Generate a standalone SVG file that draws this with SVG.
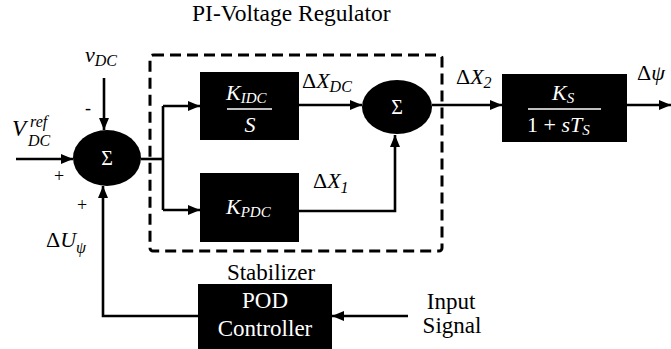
<svg xmlns="http://www.w3.org/2000/svg" width="671" height="349" viewBox="0 0 671 349" font-family="'Liberation Serif', 'Times New Roman', serif">
<defs>
<marker id="ah" viewBox="0 0 12 10" refX="12" refY="5" markerWidth="12" markerHeight="10" markerUnits="userSpaceOnUse" orient="auto">
<path d="M0,0 L12,5 L0,10 z" fill="#000"/>
</marker>
</defs>
<style>
.blk{fill:#000;stroke:none}
.ln{fill:none;stroke:#000;stroke-width:2.6}
.arr{fill:none;stroke:#000;stroke-width:2.6;marker-end:url(#ah)}
.dash{fill:none;stroke:#000;stroke-width:3;stroke-dasharray:11 6}
.frac{stroke:#fff;stroke-width:1.6}
</style>
<rect width="671" height="349" fill="#fff"/>
<text x="192" y="21" font-size="23.5" fill="#000">PI-Voltage Regulator</text>
<rect class="dash" x="150" y="55" width="292" height="196" rx="3"/>
<g id="connectors">
<path class="arr" d="M16,159 H73"/>
<path class="arr" d="M104,78 V130"/>
<path class="arr" d="M199,316 H103 V186"/>
<path class="ln" d="M141,159 H163"/>
<path class="ln" d="M163,106 V210"/>
<path class="arr" d="M163,106 H200"/>
<path class="arr" d="M163,210 H200"/>
<path class="arr" d="M299,105 H362"/>
<path class="arr" d="M299,211 H395 V135"/>
<path class="arr" d="M432,105 H502"/>
<path class="arr" d="M627,105 H671"/>
<path class="arr" d="M408,316 H332"/>
</g>
<g id="sum1">
<ellipse class="blk" cx="107" cy="158" rx="34" ry="28"/>
<text x="107" y="165" text-anchor="middle" font-size="20" fill="#fff">Σ</text>
</g>
<g id="labels-left" font-style="italic" font-size="22" fill="#000">
<text x="85" y="62">v<tspan font-size="16" dy="4">DC</tspan></text>
<text x="85" y="114" font-style="normal" font-size="18">-</text>
<text x="12" y="136" font-size="23">V</text>
<text x="30" y="127" font-size="16">ref</text>
<text x="28" y="146" font-size="16">DC</text>
<text x="54" y="182" font-style="normal" font-size="18">+</text>
<text x="77" y="211" font-style="normal" font-size="18">+</text>
<text x="46" y="247"><tspan font-style="normal">Δ</tspan>U<tspan font-size="16" dy="6">ψ</tspan></text>
</g>
<g id="kidc" font-style="italic" font-size="22" fill="#fff">
<rect class="blk" x="200" y="72" width="99" height="68"/>
<text x="226" y="100">K<tspan font-size="15" dy="3">IDC</tspan></text>
<line class="frac" x1="227" y1="109" x2="272" y2="109"/>
<text x="250" y="132" text-anchor="middle">S</text>
</g>
<g id="kpdc" font-style="italic" font-size="22" fill="#fff">
<rect class="blk" x="200" y="173" width="99" height="69"/>
<text x="226" y="214">K<tspan font-size="15" dy="3">PDC</tspan></text>
</g>
<g id="sum2">
<ellipse class="blk" cx="397" cy="107" rx="35" ry="27"/>
<text x="397" y="114" text-anchor="middle" font-size="20" fill="#fff">Σ</text>
</g>
<g font-style="italic" font-size="22" fill="#000">
<text x="302" y="88"><tspan font-style="normal">Δ</tspan>X<tspan font-size="16" dy="4">DC</tspan></text>
<text x="313" y="188"><tspan font-style="normal">Δ</tspan>X<tspan font-size="16" dy="5">1</tspan></text>
<text x="456" y="84"><tspan font-style="normal">Δ</tspan>X<tspan font-size="16" dy="4">2</tspan></text>
<text x="637" y="80"><tspan font-style="normal">Δ</tspan>ψ</text>
</g>
<g id="ks" font-style="italic" font-size="22" fill="#fff">
<rect class="blk" x="502" y="74" width="125" height="68"/>
<text x="552" y="100">K<tspan font-size="15" dy="3">S</tspan></text>
<line class="frac" x1="528" y1="109" x2="601" y2="109"/>
<text x="527" y="132"><tspan font-style="normal">1 + </tspan>sT<tspan font-size="15" dy="3">S</tspan></text>
</g>
<g id="pod" font-size="23">
<text x="271" y="280" text-anchor="middle" fill="#000">Stabilizer</text>
<rect class="blk" x="198" y="284" width="134" height="65"/>
<text x="265" y="308" text-anchor="middle" fill="#fff">POD</text>
<text x="265" y="336" text-anchor="middle" fill="#fff">Controller</text>
</g>
<g id="input" font-size="23" fill="#000">
<text x="451" y="309" text-anchor="middle">Input</text>
<text x="452" y="333" text-anchor="middle">Signal</text>
</g>
</svg>
